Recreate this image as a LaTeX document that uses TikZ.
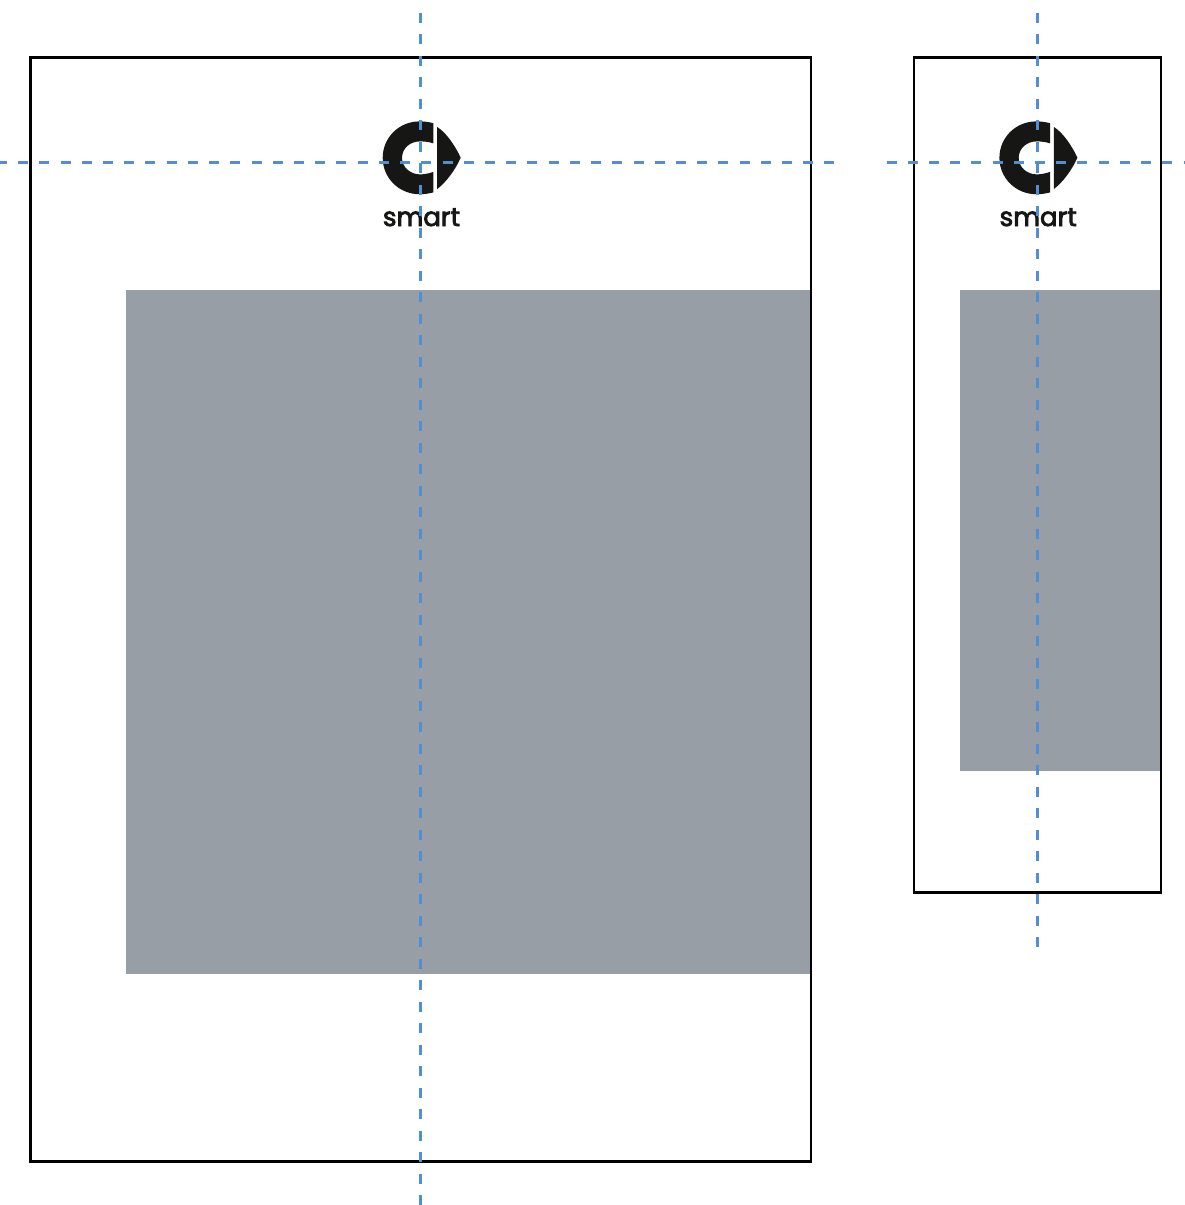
\documentclass[tikz,border=0pt]{standalone}
\usepackage{fontspec}
\newfontfamily\logofont{Poppins}[FakeBold=3]
\definecolor{guide}{HTML}{4F8FD2}
\definecolor{panelgrey}{HTML}{979EA5}
\definecolor{logoblack}{HTML}{161615}
\tikzset{
  frame/.style={draw=black,line width=2.6pt,fill=none},
  panel/.style={fill=panelgrey,draw=none},
  guideh/.style={draw=guide,line width=3.2pt,dash pattern=on 10pt off 11.22pt},
  guidev/.style={draw=guide,line width=3pt,dash pattern=on 10pt off 11.5pt},
  logoshape/.style={fill=logoblack,draw=none,even odd rule},
  logotext/.style={text=logoblack,inner sep=0pt,font=\logofont\fontsize{26}{26}\selectfont}
}
\newcommand{\smartlogo}[1]{%
  \begin{scope}[shift={(#1,0.4)}]
    % C
    \fill[logoshape] (433.3,122.8) .. controls (428,121.4) and (424,121) .. (419.5,121)
      .. controls (399,121) and (382.7,137.2) .. (382.7,157.4)
      .. controls (382.7,177.6) and (399,193.8) .. (419.5,193.8)
      .. controls (424,193.8) and (428,193.4) .. (433.3,192)
      -- (433.3,171.5) .. controls (429.5,173) and (424,174) .. (420,174)
      .. controls (410,174) and (402,166.5) .. (402,157.4)
      .. controls (402,148) and (410,141) .. (420,141)
      .. controls (424,141) and (429.5,141.5) .. (433.3,143) -- cycle;
    % right half
    \fill[logoshape] (437.2,126.6) .. controls (446,132) and (455,145) .. (460.7,157.3)
      .. controls (455,170) and (446,182) .. (437.2,188.6) -- cycle;
  \end{scope}}
\begin{document}
\begin{tikzpicture}[x=1pt,y=-1pt]
\useasboundingbox (0,0) rectangle (1184,1205);
\fill[white] (0,0) rectangle (1184,1205);
% panels
\path[panel] (126,290) rectangle (810,974);
\path[panel] (960,290) rectangle (1160,771);
% frames
\draw[frame] (30.3,57.5) rectangle (811,1161.3);
\draw[frame] (914,57.5) rectangle (1160.8,892.5);
% logos
\smartlogo{0}
\smartlogo{616.7}
\node[logotext,anchor=base] (smartleft) at (421.5,226) {smart};
\node[logotext,anchor=base] (smartright) at (1038.2,226) {smart};
% guides
\coordinate (lhs) at (-3.1,162.6);
\coordinate (lhe) at (836,162.6);
\coordinate (rhs) at (886.5,162.6);
\coordinate (rhe) at (1184,162.6);
\coordinate (lvs) at (420.5,12.8);
\coordinate (lve) at (420.5,1205);
\coordinate (rvs) at (1037.2,12.8);
\coordinate (rve) at (1037.2,948);
\draw[guideh] (lhs) -- (lhe);
\draw[guideh] (rhs) -- (rhe);
\draw[guidev] (lvs) -- (lve);
\draw[guidev] (rvs) -- (rve);
\end{tikzpicture}
\end{document}
